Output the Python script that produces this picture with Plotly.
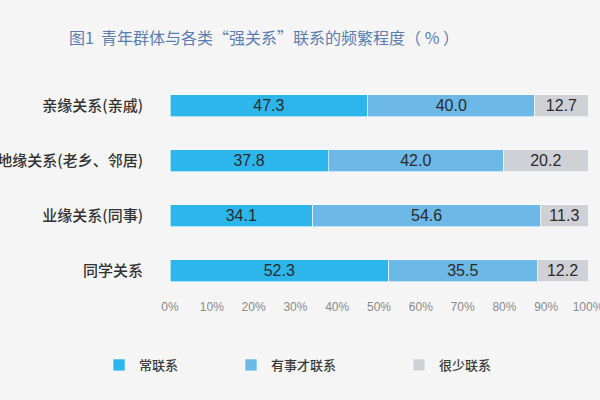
import plotly.graph_objects as go

categories = ["亲缘关系(亲戚)", "地缘关系(老乡、邻居)", "业缘关系(同事)", "同学关系"]
often = [47.3, 37.8, 34.1, 52.3]
when_needed = [40.0, 42.0, 54.6, 35.5]
rarely = [12.7, 20.2, 11.3, 12.2]
series_names = ["常联系", "有事才联系", "很少联系"]
colors = ["#2cb6ec", "#6cb8e6", "#d0d1d7"]
x_ticks = [0, 10, 20, 30, 40, 50, 60, 70, 80, 90, 100]
legend_ids = ["legend", "legend2", "legend3"]
legend_x = [99 / 600, 231 / 600, 399 / 600]

fig = go.Figure()
for name, vals, col, lg in zip(series_names, [often, when_needed, rarely], colors, legend_ids):
    fig.add_trace(go.Bar(
        y=categories, x=vals, name=name, orientation="h", legend=lg,
        marker=dict(color=col, line=dict(color="#ffffff", width=0.6)),
        text=[f"{v:.1f}" for v in vals], textposition="inside",
        insidetextanchor="middle", constraintext="none",
        textfont=dict(family="Liberation Sans, Arial", size=16, color="#2b2b2b"),
        hoverinfo="skip",
    ))

legend_common = dict(orientation="h", xref="container", yref="container",
                     xanchor="left", y=1 - 365 / 400, yanchor="middle",
                     bgcolor="rgba(0,0,0,0)",
                     font=dict(family="Noto Sans CJK SC Medium, Noto Sans CJK SC", size=13,
                               color="#3a3a3a"))
layout_legends = {}
for lg, lx in zip(legend_ids, legend_x):
    layout_legends[lg] = dict(legend_common, x=lx)

fig.update_layout(
    barmode="stack",
    width=600, height=400,
    paper_bgcolor="#f5f5f5", plot_bgcolor="#f5f5f5",
    margin=dict(l=170, r=12, t=78, b=102, autoexpand=False),
    bargap=0.6,
    title=dict(text="图1  青年群体与各类“强关系”联系的频繁程度（ % ）",
               x=264 / 600, xanchor="center", y=1 - 38 / 400, yanchor="middle",
               font=dict(family="Noto Sans CJK SC", size=16, color="#5a7db3")),
    showlegend=True,
    font=dict(family="Noto Sans CJK SC"),
    **layout_legends,
)
fig.update_xaxes(range=[0, 100], tickvals=x_ticks, ticktext=[f"{t}%" for t in x_ticks],
                 showgrid=False, zeroline=False, showline=False, automargin=False,
                 ticklabeloverflow="allow",
                 tickfont=dict(family="Liberation Sans, Arial", size=12, color="#8a8a8a"))
fig.update_yaxes(autorange="reversed", showgrid=False, zeroline=False, showline=False,
                 automargin=False, ticklabelstandoff=26, ticklabeloverflow="allow",
                 tickfont=dict(family="Noto Sans CJK SC Medium, Noto Sans CJK SC", size=15,
                               color="#333333"))

fig.write_html(
    "out.html",
    config={"displayModeBar": False},
    post_script="document.body.style.margin='0';document.body.style.background='#f5f5f5';",
)
